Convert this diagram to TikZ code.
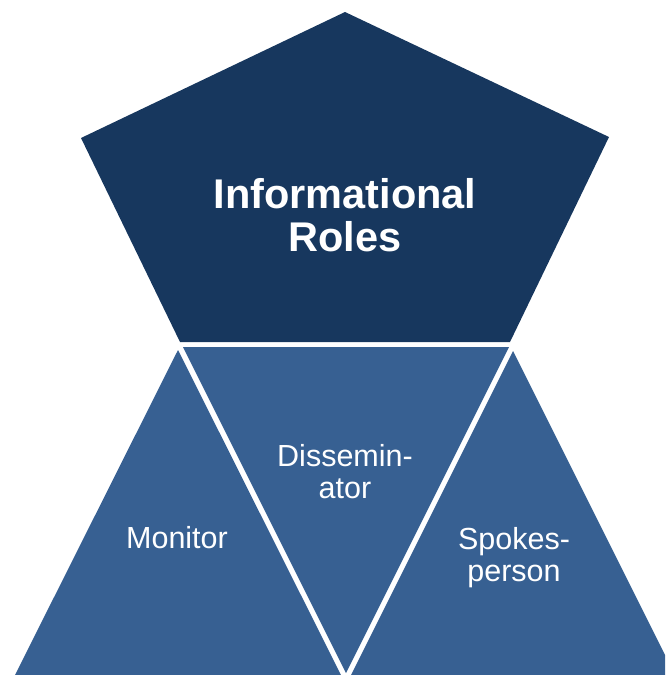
\documentclass[tikz,border=0pt]{standalone}
\usepackage{fontspec}
\setmainfont{Liberation Sans}
\definecolor{darknavy}{HTML}{17375E}
\definecolor{midblue}{HTML}{376092}
\begin{document}
\begin{tikzpicture}[x=1pt,y=-1pt,
  bigtext/.style={text=white,font=\fontsize{41.5}{43}\selectfont\bfseries,align=center,inner sep=0pt},
  smalltext/.style={text=white,font=\fontsize{30.5}{32}\selectfont,align=center,inner sep=0pt}]
\useasboundingbox (0,0) rectangle (665,675);
\clip (0,0) rectangle (665,675);
% pentagon
\fill[darknavy] (345,12) -- (609,137) -- (510,342) -- (180,342) -- (81,138) -- cycle;
% triangles
\fill[midblue] (178,350) -- (341,675) -- (15,675) -- cycle;
\fill[midblue] (183,347) -- (509,347) -- (346,673) -- cycle;
\fill[midblue] (513,351) -- (676,677) -- (350,677) -- cycle;
% texts
\node[bigtext,anchor=base] (title) at (345,251) {Informational\\Roles};
\node[smalltext,anchor=base] (monitor) at (177,548) {Monitor};
\node[smalltext,anchor=base] (dissem) at (345,498) {Dissemin-\\ator};
\node[smalltext,anchor=base] (spokes) at (514,581) {Spokes-\\person};
\end{tikzpicture}
\end{document}
